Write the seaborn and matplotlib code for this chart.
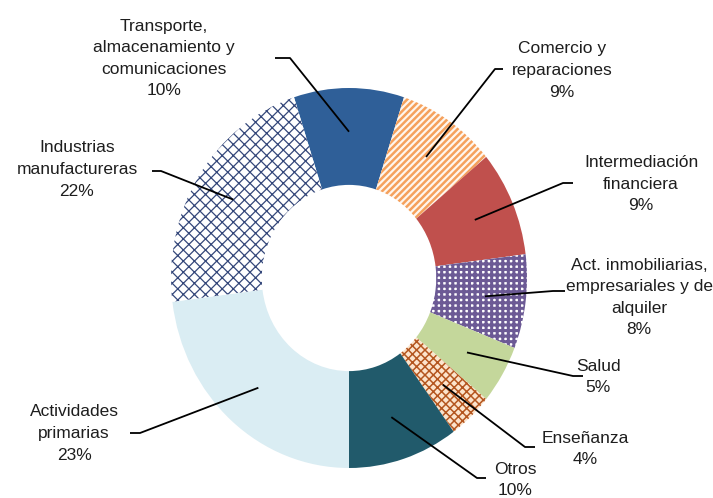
import matplotlib
matplotlib.use("Agg")
import matplotlib.pyplot as plt
import numpy as np
import seaborn as sns

# Sector shares, clockwise from the top of the ring
sectors = [
    "Transporte,\nalmacenamiento y\ncomunicaciones",
    "Comercio y\nreparaciones",
    "Intermediación\nfinanciera",
    "Act. inmobiliarias,\nempresariales y de\nalquiler",
    "Salud",
    "Enseñanza",
    "Otros",
    "Actividades\nprimarias",
    "Industrias\nmanufactureras",
]
shares = [10, 9, 9, 8, 5, 4, 10, 23, 22]

face_colors = ["#2F5F98", "#FFF6EE", "#C0504D", "#FFFFFF", "#C4D79B",
               "#FCE4CC", "#215A6B", "#DAEDF3", "#FFFFFF"]
hatch_colors = ["#2F5F98", "#F5A15C", "#C0504D", "#6C5A95", "#C4D79B",
                "#B4561F", "#215A6B", "#DAEDF3", "#34477A"]
hatches = [None, "/////", None, "+++", None, "xxxx", None, None, "xxx"]
hatch_widths = [1, 1.8, 1, 2.2, 1, 1.1, 1, 1, 0.9]

sns.set_theme(style="white")
plt.rcParams["font.family"] = ["Liberation Sans", "DejaVu Sans"]
plt.rcParams["hatch.linewidth"] = 1.0

W, H = 713, 498
fig = plt.figure(figsize=(W / 100, H / 100), dpi=100)
ax = fig.add_axes([0, 0, 1, 1])

# ring centre and radii in pixels (ring is slightly taller than wide)
cx, cy, rx, ry = 349, 278, 178, 190


def px(x, y):
    return (x - cx) / rx, (cy - y) / ry


start = 108
wedges, _ = ax.pie(shares, startangle=start, counterclock=False, radius=1.0,
                   colors=face_colors,
                   wedgeprops=dict(width=0.51, linewidth=0))
for w, hc, hp, hw in zip(wedges, hatch_colors, hatches, hatch_widths):
    w.set_edgecolor(hc)
    w.set_linewidth(0)
    if hp:
        w.set_hatch(hp)
        if hasattr(w, "set_hatch_linewidth"):
            w.set_hatch_linewidth(hw)

ax.set_aspect("auto")
ax.set_xlim(-cx / rx, (W - cx) / rx)
ax.set_ylim((cy - H) / ry, cy / ry)
ax.axis("off")

# label centres and leader-line elbows (pixel positions)
label_pos = [(164, 58.5), (562, 70.5), (641, 184), (639, 297.5), (598, 377),
             (585, 449), (515, 480), (74, 433.5), (77, 169.5)]
leader_ends = [((275, 58), (290, 58)), ((503, 69), (495, 69)),
               ((573, 183), (563, 183)), ((565, 291), (553, 291)),
               ((583, 376), (573, 376)), ((535, 447), (525, 447)),
               ((486, 478), (477, 478)), ((130, 433), (140, 433)),
               ((152, 171), (161, 171))]

total = sum(shares)
angle = start
for name, val, (tx, ty), (p0, p1) in zip(sectors, shares, label_pos, leader_ends):
    mid = np.deg2rad(angle - 360 * val / total / 2)
    angle -= 360 * val / total
    ax_, ay_ = 0.77 * np.cos(mid), 0.77 * np.sin(mid)
    x0, y0 = px(*p0)
    x1, y1 = px(*p1)
    ax.plot([x0, x1, ax_], [y0, y1, ay_], color="black", lw=1.3,
            solid_capstyle="butt", zorder=5)
    lx, ly = px(tx, ty)
    ax.text(lx, ly, f"{name}\n{val}%", ha="center", va="center",
            fontsize=12.5, color="#1E1E1E", linespacing=1.55)

fig.savefig("out.png", dpi=100)
